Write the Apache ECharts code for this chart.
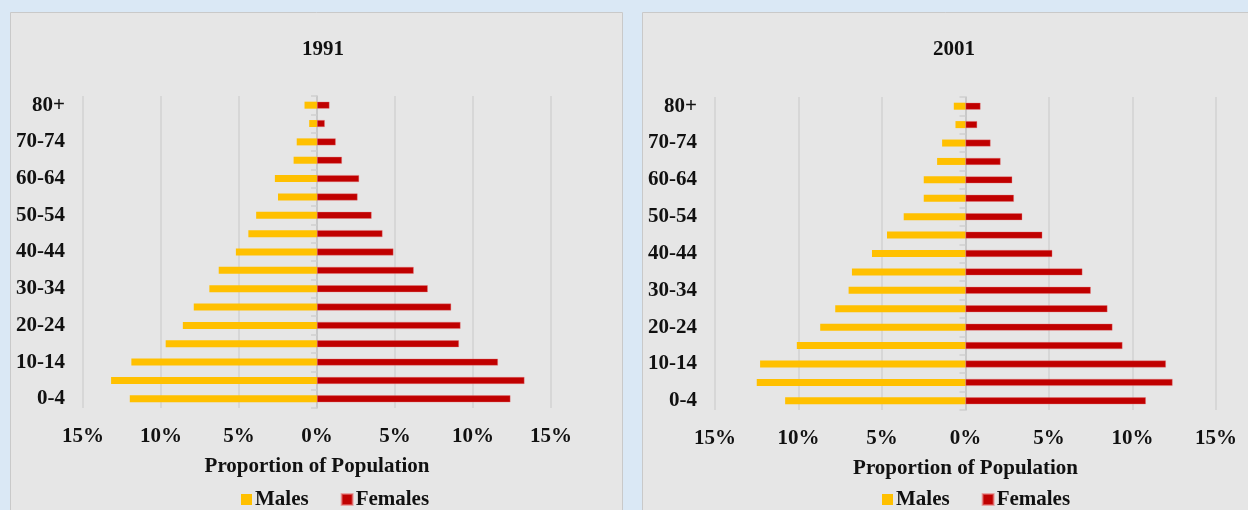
<!DOCTYPE html>
<html>
<head>
<meta charset="utf-8">
<script src="https://cdn.jsdelivr.net/npm/echarts@6/dist/echarts.min.js"></script>
<style>
  html, body { margin: 0; padding: 0; background: #dae8f5; }
  #chart { width: 1248px; height: 510px; }
</style>
</head>
<body>
<div id="chart"></div>
<script>
// age groups, bottom to top
const ageGroups = ['0-4', '5-9', '10-14', '15-19', '20-24', '25-29', '30-34', '35-39', '40-44',
  '45-49', '50-54', '55-59', '60-64', '65-69', '70-74', '75-79', '80+']

// percent of population (males drawn to the left)
const males1991 = [12.0, 13.2, 11.9, 9.7, 8.6, 7.9, 6.9, 6.3, 5.2, 4.4, 3.9, 2.5, 2.7, 1.5, 1.3, 0.5, 0.8]
const females1991 = [12.4, 13.3, 11.6, 9.1, 9.2, 8.6, 7.1, 6.2, 4.9, 4.2, 3.5, 2.6, 2.7, 1.6, 1.2, 0.5, 0.8]
const males2001 = [10.8, 12.5, 12.3, 10.1, 8.7, 7.8, 7.0, 6.8, 5.6, 4.7, 3.7, 2.5, 2.5, 1.7, 1.4, 0.6, 0.7]
const females2001 = [10.8, 12.4, 12.0, 9.4, 8.8, 8.5, 7.5, 7.0, 5.2, 4.6, 3.4, 2.9, 2.8, 2.1, 1.5, 0.7, 0.9]

const years = ['1991', '2001']
const xTicks = { min: -15, max: 15, step: 5 }

const font = '"Liberation Serif", "Times New Roman", serif'
const MALE = '#ffc000'
const FEMALE = '#c00000'

const chart = echarts.init(document.getElementById('chart'))

const grids = [
  { left: 83, top: 96, width: 468, height: 312 },
  { left: 715, top: 97, width: 501, height: 313 }
]

function xAxisFor(i) {
  return {
    type: 'value',
    gridIndex: i,
    min: xTicks.min,
    max: xTicks.max,
    interval: xTicks.step,
    name: 'Proportion of Population',
    nameLocation: 'middle',
    nameGap: 59,
    nameTextStyle: { fontFamily: font, fontWeight: 'bold', fontSize: 21, color: '#111', verticalAlign: 'middle' },
    axisLine: { show: false },
    axisTick: { show: false },
    axisLabel: {
      margin: 18,
      fontFamily: font, fontWeight: 'bold', fontSize: 21, color: '#111',
      formatter: v => Math.abs(v) + '%'
    },
    splitLine: { lineStyle: { color: '#d2d2d2', width: 1.5 } }
  }
}

function yAxesFor(i) {
  return [
    {
      // labels on the left edge
      type: 'category',
      gridIndex: i,
      data: ageGroups,
      axisLine: { show: false, onZero: false },
      axisTick: { show: false },
      axisLabel: {
        interval: 1,
        margin: 18,
        fontFamily: font, fontWeight: 'bold', fontSize: 21, color: '#111'
      }
    },
    {
      // the centre line with ticks at 0%
      type: 'category',
      gridIndex: i,
      position: 'left',
      data: ageGroups,
      axisLine: { show: true, onZero: true, lineStyle: { color: '#c4c4c4', width: 1.5 } },
      axisTick: { show: true, length: 6, lineStyle: { color: '#cfcfcf', width: 1.5 } },
      axisLabel: { show: false }
    }
  ]
}

const malesByYear = [males1991, males2001]
const femalesByYear = [females1991, females2001]

let series = []
years.forEach((y, i) => {
  series.push({
    name: 'Males',
    type: 'bar',
    xAxisIndex: i,
    yAxisIndex: i * 2,
    stack: 'pyr' + i,
    barWidth: 7,
    itemStyle: { color: MALE },
    data: malesByYear[i].map(v => -v)
  })
  series.push({
    name: 'Females',
    type: 'bar',
    xAxisIndex: i,
    yAxisIndex: i * 2,
    stack: 'pyr' + i,
    barWidth: 7,
    itemStyle: { color: FEMALE, borderColor: 'rgba(230,120,120,0.6)', borderWidth: 0.6 },
    data: femalesByYear[i]
  })
})

const legendText = { fontFamily: font, fontWeight: 'bold', fontSize: 21, color: '#111', padding: [0, 0, 0, -2] }

const option = {
  backgroundColor: '#dae8f5',
  animation: false,
  graphic: [
    { type: 'rect', z: -10, shape: { x: 10.5, y: 12.5, width: 612, height: 520 },
      style: { fill: '#e6e6e6', stroke: '#c9c9c9', lineWidth: 1 } },
    { type: 'rect', z: -10, shape: { x: 642.5, y: 12.5, width: 620, height: 520 },
      style: { fill: '#e6e6e6', stroke: '#c9c9c9', lineWidth: 1 } }
  ],
  title: [
    { text: years[0], left: 318, top: 34, textAlign: 'center',
      textStyle: { fontFamily: font, fontWeight: 'bold', fontSize: 21, color: '#111' } },
    { text: years[1], left: 949, top: 34, textAlign: 'center',
      textStyle: { fontFamily: font, fontWeight: 'bold', fontSize: 21, color: '#111' } }
  ],
  legend: [
    { left: 236, top: 484, itemWidth: 11, itemHeight: 11, itemGap: 32, icon: 'rect',
      data: ['Males', 'Females'], textStyle: legendText },
    { left: 877, top: 484, itemWidth: 11, itemHeight: 11, itemGap: 32, icon: 'rect',
      data: ['Males', 'Females'], textStyle: legendText }
  ],
  grid: grids,
  xAxis: [xAxisFor(0), xAxisFor(1)],
  yAxis: [...yAxesFor(0), ...yAxesFor(1)],
  series: series
}

chart.setOption(option)
</script>
</body>
</html>
